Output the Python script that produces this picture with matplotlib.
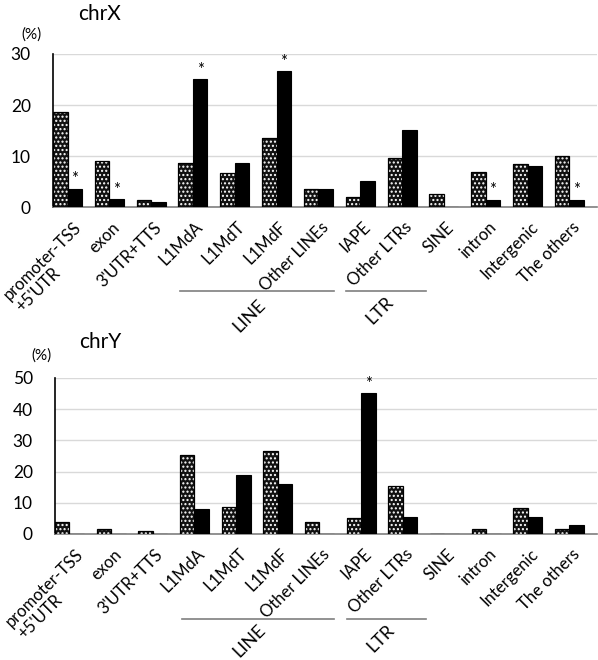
import numpy as np
import matplotlib
matplotlib.use('Agg')
import matplotlib.pyplot as plt
import matplotlib.transforms as mtransforms

plt.rcParams['font.family'] = ['Lato', 'DejaVu Sans']
plt.rcParams['hatch.linewidth'] = 1.0

categories = ["promoter-TSS\n+5'UTR", "exon", "3'UTR+TTS", "L1MdA", "L1MdT", "L1MdF",
              "Other LINEs", "IAPE", "Other LTRs", "SINE", "intron", "Intergenic", "The others"]

# chrX
x_pattern = [18.7, 9.1, 1.3, 8.7, 6.6, 13.5, 3.5, 2.0, 9.7, 2.6, 6.8, 8.5, 10.0]
x_black = [3.6, 1.5, 0.9, 25.1, 8.7, 26.6, 3.6, 5.1, 15.1, 0.0, 1.45, 8.0, 1.45]
x_star = [0, 1, 3, 5, 10, 12]

# chrY
y_pattern = [3.8, 1.7, 1.0, 25.2, 8.75, 26.6, 3.8, 5.1, 15.3, 0.0, 1.7, 8.2, 1.7]
y_black = [0.0, 0.0, 0.0, 8.1, 18.8, 16.0, 0.0, 45.2, 5.5, 0.0, 0.0, 5.5, 3.0]
y_star = [7]

groups = [("LINE", 2.69, 6.36), ("LTR", 6.67, 8.56)]

W, H = 598, 660
fig = plt.figure(figsize=(W / 100, H / 100), dpi=100)


def panel(rect, pat, blk, stars, ymax, title, title_y, pct_x, pct_y, bracket_y):
    ax = fig.add_axes(rect)
    idx = np.arange(len(categories))
    w = 0.347
    # dotted bars: dark fill with white dots, then a black outline on top
    ax.bar(idx - w / 2, pat, w, color='#111111', edgecolor='white', hatch='....', linewidth=0, zorder=3)
    ax.bar(idx - w / 2, pat, w, fill=False, edgecolor='black', linewidth=0.9, zorder=3)
    ax.bar(idx + w / 2, blk, w, color='black', edgecolor='black', linewidth=0.8, zorder=3)
    for i in stars:
        ax.annotate('*', (i + w / 2, blk[i]), xytext=(0, 1), textcoords='offset points',
                    ha='center', va='bottom', fontsize=12, zorder=4)
    ax.set_xlim(-0.347, 12.66)
    ax.set_ylim(0, ymax)
    ax.set_yticks(np.arange(0, ymax + 1, 10))
    ax.yaxis.grid(True, color='#d9d9d9', linewidth=1.0, zorder=0)
    ax.set_axisbelow(True)
    for s in ['top', 'right']:
        ax.spines[s].set_visible(False)
    ax.spines['left'].set_color('black')
    ax.spines['left'].set_linewidth(1.2)
    ax.spines['bottom'].set_color('#7f7f7f')
    ax.spines['bottom'].set_linewidth(1.2)
    ax.set_xticks(idx)
    ax.set_xticklabels(categories, rotation=45, ha='right', va='top', rotation_mode='anchor',
                       fontsize=12, multialignment='left', linespacing=1.1)
    ax.tick_params(axis='x', length=0, pad=0)
    for k, lab in enumerate(ax.get_xticklabels()):
        dx = 6 if k == 0 else 2
        shift = mtransforms.ScaledTranslation(dx / 100, -12 / 100, fig.dpi_scale_trans)
        lab.set_transform(lab.get_transform() + shift)
    ax.tick_params(axis='y', length=0, pad=16, labelsize=12.5)
    fig.text(0.167, title_y, title, fontsize=15, ha='center', va='center')
    fig.text(pct_x, pct_y, '(%)', fontsize=11, ha='center', va='center')
    trans = mtransforms.blended_transform_factory(ax.transData, ax.transAxes)
    for name, a, b in groups:
        ax.plot([a, b], [bracket_y, bracket_y], color='#7f7f7f', linewidth=1.2,
                transform=trans, clip_on=False)
    return ax


ax1 = panel([53 / W, 1 - 207 / H, 544 / W, 153 / H], x_pattern, x_black, x_star,
            30, 'chrX', 1 - 14 / H, 31 / W, 1 - 35 / H, -84 / 153)
ax2 = panel([55 / W, 1 - 534 / H, 542 / W, 156 / H], y_pattern, y_black, y_star,
            50, 'chrY', 1 - 342 / H, 42 / W, 1 - 356 / H, -85 / 156)

for txt, xp, yp in [("LINE", 249, 316), ("LTR", 380, 310), ("LINE", 249, 641), ("LTR", 381, 638)]:
    fig.text(xp / W, 1 - yp / H, txt, rotation=45, fontsize=13, ha='center', va='center')

fig.savefig('out.png', dpi=100)
